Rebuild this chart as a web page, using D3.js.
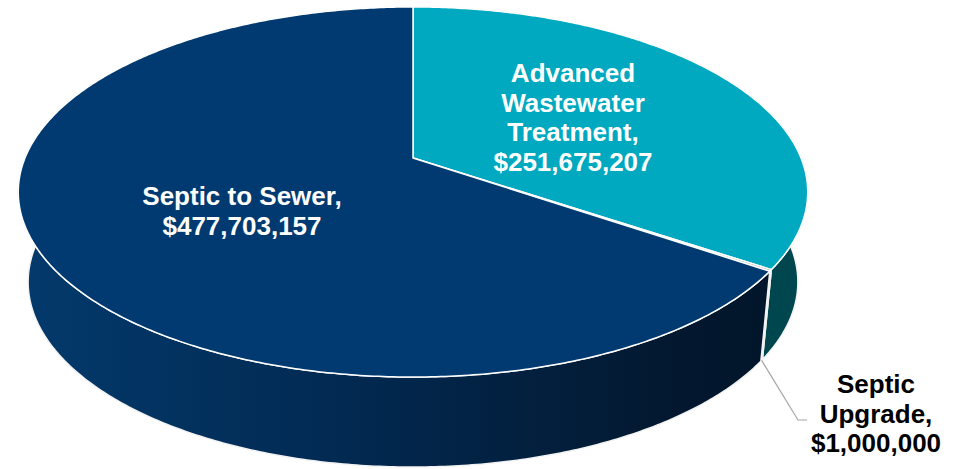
<!DOCTYPE html>
<html>
<head>
<meta charset="utf-8">
<script src="https://cdn.jsdelivr.net/npm/d3@7"></script>
<style>
  body { margin: 0; background: #fff; }
  svg { display: block; }
  text { font-family: "Liberation Sans", Arial, sans-serif; font-weight: bold; }
</style>
</head>
<body>
<div id="chart"></div>
<script>
// slice data, clockwise from 12 o'clock
const categories = ['Advanced Wastewater Treatment', 'Septic Upgrade', 'Septic to Sewer'];
const values = [251675207, 1000000, 477703157];
const nameLines = [['Advanced', 'Wastewater', 'Treatment,'], ['Septic', 'Upgrade,'], ['Septic to Sewer,']];

const w = 953;
const h = 469;

// perspective of the disc
const cx = 413, cy = 158, A = 388, C = 178.8, k = 0.1838;
const depth = 90, shrink = 0.975;

const topColors = ['#00a9bf', '#8c8c8c', '#003a70'];
const sideColors = ['#00464e', '#4a4a4a', 'url(#navySide)'];
const labelColors = ['#fff', '#000', '#fff'];
// label anchors (center x, first baseline)
const labelPos = [[573, 82], [876, 393], [242, 205]];

function topPt(a, f) {
  if (f === undefined) f = 1;
  const x = f * Math.sin(a), z = -f * Math.cos(a), ww = 1 - k * z;
  return [cx + A * x / ww, cy + C * z / ww];
}
function botPt(a) {
  const p = topPt(a);
  return [cx + (p[0] - cx) * shrink, p[1] + depth];
}
function arcPts(a0, a1, fn) {
  const n = Math.max(2, Math.ceil((a1 - a0) / 0.01));
  return d3.range(n + 1).map(i => fn(a0 + (a1 - a0) * i / n));
}

const svg = d3.select('#chart').append('svg')
  .attr('width', w)
  .attr('height', h);

const grad = svg.append('defs').append('linearGradient')
  .attr('id', 'navySide')
  .attr('gradientUnits', 'userSpaceOnUse')
  .attr('x1', 17).attr('x2', 800).attr('y1', 0).attr('y2', 0);
grad.append('stop').attr('offset', '0%').attr('stop-color', '#033a6c');
grad.append('stop').attr('offset', '40%').attr('stop-color', '#022a53');
grad.append('stop').attr('offset', '84%').attr('stop-color', '#03182f');
grad.append('stop').attr('offset', '100%').attr('stop-color', '#011429');

const pie = d3.pie().sort(null).startAngle(0).endAngle(2 * Math.PI);
const arcs = pie(values);
const line = d3.line();

// side walls
svg.append('g').selectAll('path')
  .data(arcs)
  .enter()
  .append('path')
  .attr('d', d => {
    const t = arcPts(d.startAngle, d.endAngle, a => topPt(a));
    const b = arcPts(d.startAngle, d.endAngle, botPt).reverse();
    return line(t.concat(b)) + 'Z';
  })
  .attr('fill', (d, i) => sideColors[i])
  .attr('stroke', '#f2f2f2')
  .attr('stroke-width', 1.5)
  .attr('stroke-linejoin', 'round');

// top face
svg.append('g').selectAll('path')
  .data(arcs)
  .enter()
  .append('path')
  .attr('d', d => line([[cx, cy]].concat(arcPts(d.startAngle, d.endAngle, a => topPt(a)))) + 'Z')
  .attr('fill', (d, i) => topColors[i])
  .attr('stroke', '#fff')
  .attr('stroke-width', 1.5)
  .attr('stroke-linejoin', 'round');

// leader line for the small slice
const small = arcs[1];
const s0 = botPt((small.startAngle + small.endAngle) / 2);
svg.append('path')
  .attr('d', line([s0, [798, 420], [807, 420]]))
  .attr('fill', 'none')
  .attr('stroke', '#a6a6a6')
  .attr('stroke-width', 1.2);

const fmt = d3.format('$,');

svg.append('g').selectAll('text')
  .data(arcs)
  .enter()
  .append('text')
  .attr('text-anchor', 'middle')
  .attr('font-size', 26)
  .attr('fill', (d, i) => labelColors[i])
  .each(function (d, i) {
    const lines = nameLines[i].concat([fmt(d.data)]);
    d3.select(this).selectAll('tspan')
      .data(lines)
      .enter()
      .append('tspan')
      .attr('x', labelPos[i][0])
      .attr('y', (s, j) => labelPos[i][1] + j * 29.7)
      .text(s => s);
  });
</script>
</body>
</html>
